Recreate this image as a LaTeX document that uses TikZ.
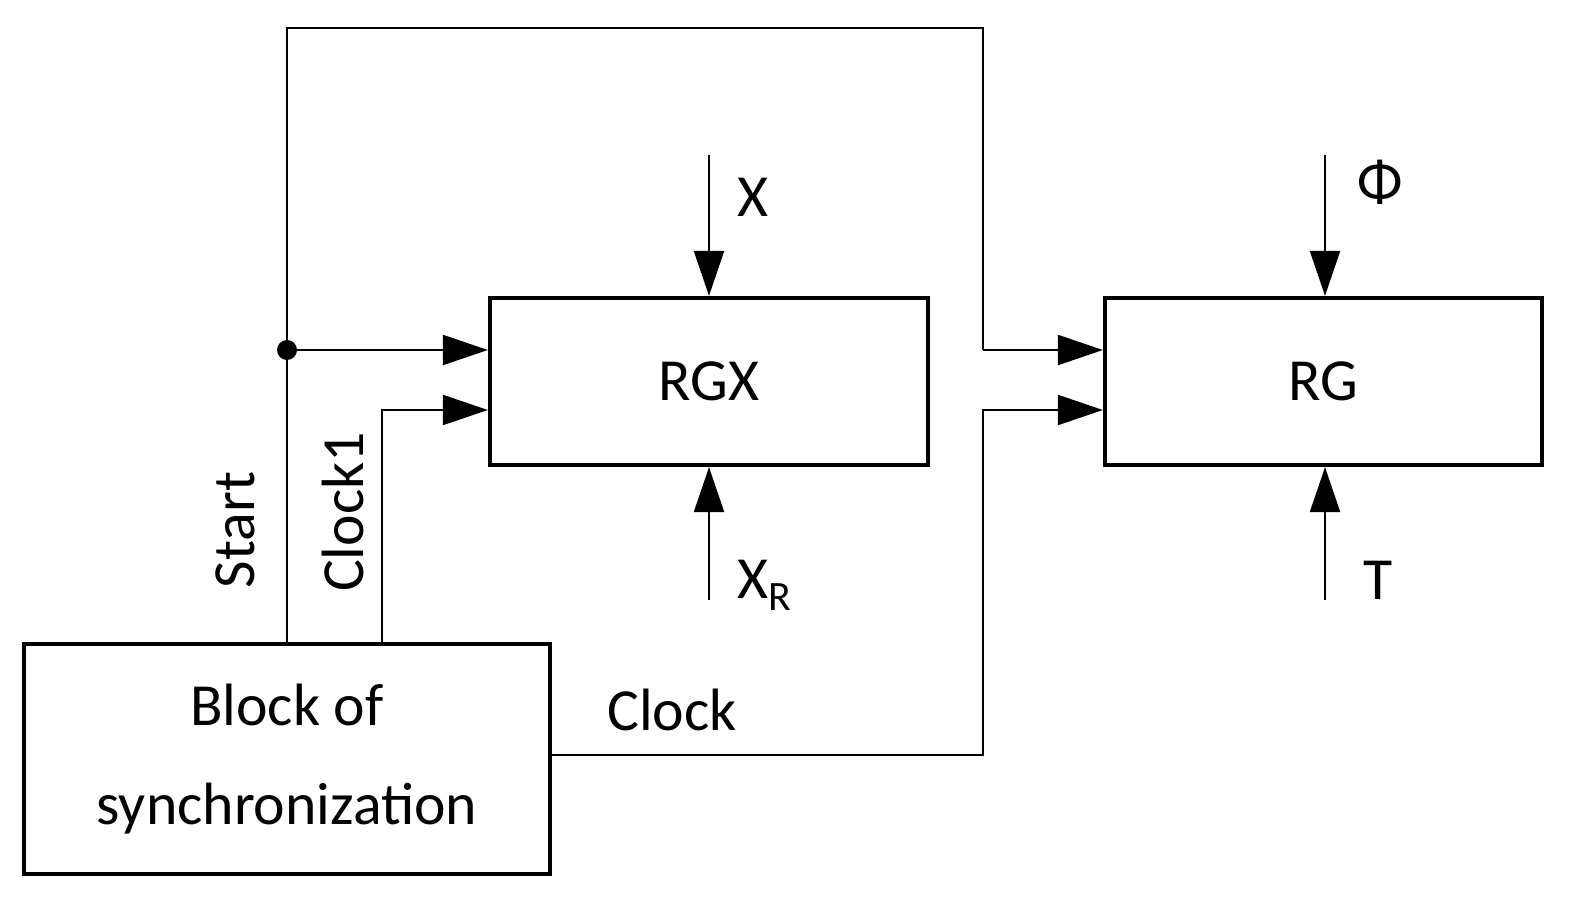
\documentclass[tikz,border=0pt]{standalone}
\usepackage{fontspec}
\setmainfont{Carlito}
\usetikzlibrary{arrows.meta}
\begin{document}
\begin{tikzpicture}[x=0.02cm,y=-0.02cm,
  box/.style={draw,line width=2.4pt,inner sep=0pt},
  wire/.style={line width=1.2pt},
  arr/.style={wire,-{Triangle[length=0.9cm,width=0.6cm]}},
  lbl/.style={font=\fontsize{34}{40}\selectfont,inner sep=0pt}]
\useasboundingbox (0,0) rectangle (1581,902);
\node[box,minimum width=526*0.02cm,minimum height=230*0.02cm,align=center,font=\fontsize{34}{56}\selectfont] (sync) at (287,759) {Block of\\synchronization};
\node[box,minimum width=438*0.02cm,minimum height=167*0.02cm,lbl] (rgx) at (709,381.5) {RGX};
\node[box,minimum width=437*0.02cm,minimum height=167*0.02cm,lbl] (rg) at (1323.5,381.5) {RG};
\coordinate (s0) at (287,644);
\coordinate (dot) at (287,350);
\coordinate (t1) at (287,28);
\coordinate (t2) at (983,28);
\coordinate (t3) at (983,350);
\coordinate (c0) at (382,644);
\coordinate (c1) at (382,410);
\coordinate (k0) at (550,755);
\coordinate (k1) at (983,755);
\coordinate (k2) at (983,410);
\draw[wire] (s0) -- (t1) -- (t2) -- (t3);
\draw[arr] (t3) -- (rg.west |- t3);
\draw[arr] (dot) -- (rgx.west |- dot);
\fill (dot) circle (10);
\draw[arr] (c0) -- (c1) -- (rgx.west |- c1);
\draw[arr] (k0) -- (k1) -- (k2) -- (rg.west |- k2);
\coordinate (xi) at (709,155); \coordinate (xri) at (709,600);
\coordinate (fi) at (1325,155); \coordinate (ti) at (1325,600);
\draw[arr] (xi) -- (rgx.north -| xi);
\draw[arr] (xri) -- (rgx.south -| xri);
\draw[arr] (fi) -- (rg.north -| fi);
\draw[arr] (ti) -- (rg.south -| ti);
\node[lbl] (lx) at (753,197) {X};
\node[lbl] (lxr) at (765,585) {X\textsubscript{R}};
\node[lbl] (lf) at (1380,182) {Φ};
\node[lbl] (lt) at (1378,580) {T};
\node[lbl,rotate=90] (ls) at (235,530) {Start};
\node[lbl,rotate=90] (lc1) at (343,512) {Clock1};
\node[lbl] (lc) at (672,710) {Clock};
\end{tikzpicture}
\end{document}
